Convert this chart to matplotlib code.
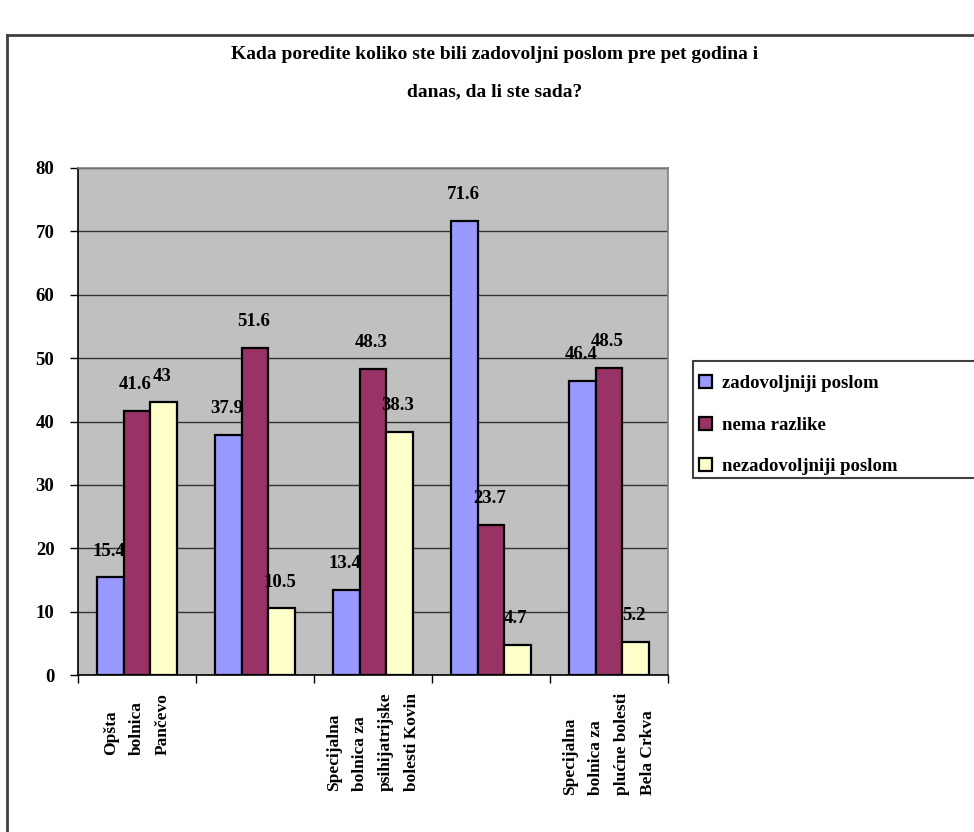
import matplotlib
matplotlib.use("Agg")
import matplotlib.pyplot as plt
import numpy as np
from matplotlib.patches import Patch, Rectangle
from matplotlib.lines import Line2D

plt.rcParams['font.family'] = ['Liberation Serif', 'DejaVu Serif']
plt.rcParams['font.weight'] = 'bold'

title = "Kada poredite koliko ste bili zadovoljni poslom pre pet godina i\ndanas, da li ste sada?"
categories = ["Opšta\nbolnica\nPančevo", "",
              "Specijalna\nbolnica za\npsihijatrijske\nbolesti Kovin", "",
              "Specijalna\nbolnica za\nplućne bolesti\nBela Crkva"]
series_names = ["zadovoljniji poslom", "nema razlike", "nezadovoljniji poslom"]
zadovoljniji = [15.4, 37.9, 13.4, 71.6, 46.4]
nema_razlike = [41.6, 51.6, 48.3, 23.7, 48.5]
nezadovoljniji = [43, 10.5, 38.3, 4.7, 5.2]
label_texts = [["15.4", "37.9", "13.4", "71.6", "46.4"],
               ["41.6", "51.6", "48.3", "23.7", "48.5"],
               ["43", "10.5", "38.3", "4.7", "5.2"]]
yticks = [0, 10, 20, 30, 40, 50, 60, 70, 80]

colors = ["#9999FF", "#993366", "#FFFFCC"]
W, H = 974, 832
fig = plt.figure(figsize=(W / 100, H / 100), dpi=100)
fig.patch.set_facecolor("white")

# outer frame (left and top edges visible)
fig.add_artist(Line2D([7 / W, 7 / W], [0, 1 - 35 / H], transform=fig.transFigure,
                      color="#404040", lw=2))
fig.add_artist(Line2D([7 / W, 1], [1 - 35 / H, 1 - 35 / H], transform=fig.transFigure,
                      color="#404040", lw=2))

ax = fig.add_axes([78 / W, 1 - 675 / H, (668 - 78) / W, (675 - 168) / H])
ax.set_facecolor("#C0C0C0")

x = np.arange(len(categories))
bw = 0.224
values = [zadovoljniji, nema_razlike, nezadovoljniji]
for i, (vals, c) in enumerate(zip(values, colors)):
    bars = ax.bar(x + (i - 1) * bw, vals, bw, color=c, edgecolor="black",
                  linewidth=1.6, zorder=3)
    for b, t in zip(bars, label_texts[i]):
        ax.annotate(t, (b.get_x() + b.get_width() / 2, b.get_height()),
                    xytext=(-1, 19), textcoords="offset points",
                    ha="center", va="center", fontsize=13.5, fontweight="bold",
                    zorder=5)

ax.set_ylim(0, 80)
ax.set_xlim(-0.5, len(categories) - 0.5)
ax.set_yticks(yticks)
ax.set_yticklabels([str(v) for v in yticks], fontsize=13.5, fontweight="bold")
ax.yaxis.grid(True, color="#333333", lw=1, zorder=1)
ax.set_axisbelow(True)
ax.tick_params(axis="y", direction="out", length=6, width=1, pad=11)
ax.set_xticks(np.arange(-0.5, len(categories), 1.0))
ax.set_xticklabels([])
ax.tick_params(axis="x", direction="out", length=6, width=1)
for s in ["left", "bottom"]:
    ax.spines[s].set_color("black")
    ax.spines[s].set_linewidth(1.2)
for s in ["top", "right"]:
    ax.spines[s].set_color("#808080")
    ax.spines[s].set_linewidth(1.2)

for xi, lab in zip(x, categories):
    if lab:
        ax.text(xi, -0.035, lab, transform=ax.get_xaxis_transform(),
                rotation=90, ha="center", va="top", multialignment="left",
                fontsize=12.5, fontweight="bold", linespacing=1.85)

fig.text(495 / W, 1 - 73 / H, title, ha="center", va="center", fontsize=14,
         fontweight="bold", linespacing=2.6)

# legend frame
fig.add_artist(Rectangle((693 / W, 1 - 478 / H), (W + 10 - 693) / W, (478 - 361) / H,
                         transform=fig.transFigure, facecolor="white",
                         edgecolor="#404040", lw=1.5))
handles = [Patch(facecolor=c, edgecolor="black", linewidth=1.6) for c in colors]
fig.legend(handles, series_names, loc="upper left",
           bbox_to_anchor=(684 / W, 1 - 360 / H), frameon=False,
           prop={"size": 13.5, "weight": "bold"}, handlelength=0.7,
           handleheight=0.7, handletextpad=0.5, labelspacing=1.3,
           borderpad=0.3)

fig.savefig("out.png", dpi=100)
